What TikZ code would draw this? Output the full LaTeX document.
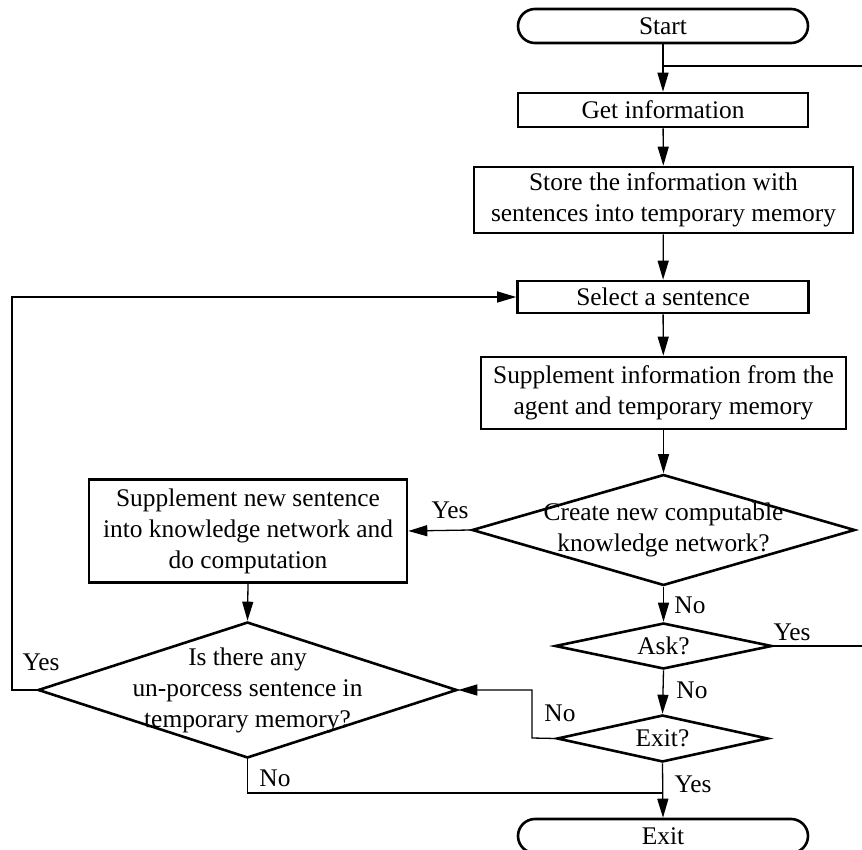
\documentclass[tikz,border=0pt]{standalone}
\usepackage{fontspec}
\setmainfont{Liberation Serif}
\usetikzlibrary{shapes.geometric,arrows.meta}
\newcommand\fsz{\fontsize{25.4}{31}\selectfont}
\begin{document}
\begin{tikzpicture}[x=1pt,y=-1pt,
  box/.style={draw, line width=2.6pt, rectangle, align=center, inner sep=0pt, font=\fsz},
  term/.style={box, rounded corners=17pt},
  dia/.style={draw, line width=2.6pt, diamond, inner sep=0pt},
  dtext/.style={align=center, font=\fsz, inner sep=0pt},
  lbl/.style={font=\fsz, inner sep=0pt},
  ln/.style={line width=1.3pt},
  arr/.style={ln, -{Triangle[length=19pt,width=11pt]}}]
\useasboundingbox (0,0) rectangle (862,850);
% nodes
\node[term, minimum width=290pt, minimum height=34pt] (start) at (663,26) {Start};
\node[box, minimum width=290pt, minimum height=34pt] (get) at (663,110) {Get information};
\node[box, minimum width=379pt, minimum height=66pt] (store) at (663.5,200) {Store the information with\\sentences into temporary memory};
\node[box, minimum width=291pt, minimum height=32pt] (sel) at (663,297) {Select a sentence};
\node[box, minimum width=365pt, minimum height=72pt] (supp) at (663.5,393) {Supplement information from the\\agent and temporary memory};
\node[dia, minimum width=383pt, minimum height=111pt,
  label={[dtext]center:Create new computable\\knowledge network?}] (create) at (663.5,530) {};
\node[box, minimum width=318pt, minimum height=103pt] (new) at (248,531) {Supplement new sentence\\into knowledge network and\\do computation};
\node[dia, minimum width=217pt, minimum height=46pt, label={[dtext]center:Ask?}] (ask) at (663.5,646) {};
\node[dia, minimum width=211pt, minimum height=47pt, label={[dtext]center:Exit?}] (exitq) at (662.5,738.5) {};
\node[term, minimum width=290pt, minimum height=34pt] (exit) at (663,836) {Exit};
\node[dia, minimum width=419pt, minimum height=136pt,
  label={[dtext]center:Is there any\\un-porcess sentence in\\temporary memory?}] (isany) at (247.5,690) {};
% helper coordinates
\coordinate (j) at (663,66);
\coordinate (rt) at (864,66);
\coordinate (nc) at (532,738);
\coordinate (lc) at (12,690);
\coordinate (jb) at (663,793);
% connectors
\draw[arr] (start) -- (get);
\draw[arr] (get) -- (store);
\draw[arr] (store) -- (sel);
\draw[arr] (sel) -- (supp);
\draw[arr] (supp) -- (create);
\draw[arr] (create.west) -- (new.east);
\draw[arr] (create.south) -- (ask.north);
\draw[ln] (ask.east) -| (rt) -- (j);
\draw[arr] (ask.south) -- (exitq.north);
\draw[arr] (exitq.south) -- (exit.north);
\draw[arr] (exitq.west) -- (nc) |- (isany.east);
\draw[arr] (new.south) -- (isany.north);
\draw[arr] (isany.west) -- (lc) |- (sel.west);
\draw[ln] (isany.south) |- (jb);
% labels
\node[lbl] (l1) at (450,510) {Yes};
\node[lbl] (l2) at (690,605) {No};
\node[lbl] (l3) at (792,632) {Yes};
\node[lbl] (l4) at (692,690) {No};
\node[lbl] (l5) at (560,713) {No};
\node[lbl] (l6) at (693,784) {Yes};
\node[lbl] (l7) at (41,662) {Yes};
\node[lbl] (l8) at (275,778) {No};
\end{tikzpicture}
\end{document}
